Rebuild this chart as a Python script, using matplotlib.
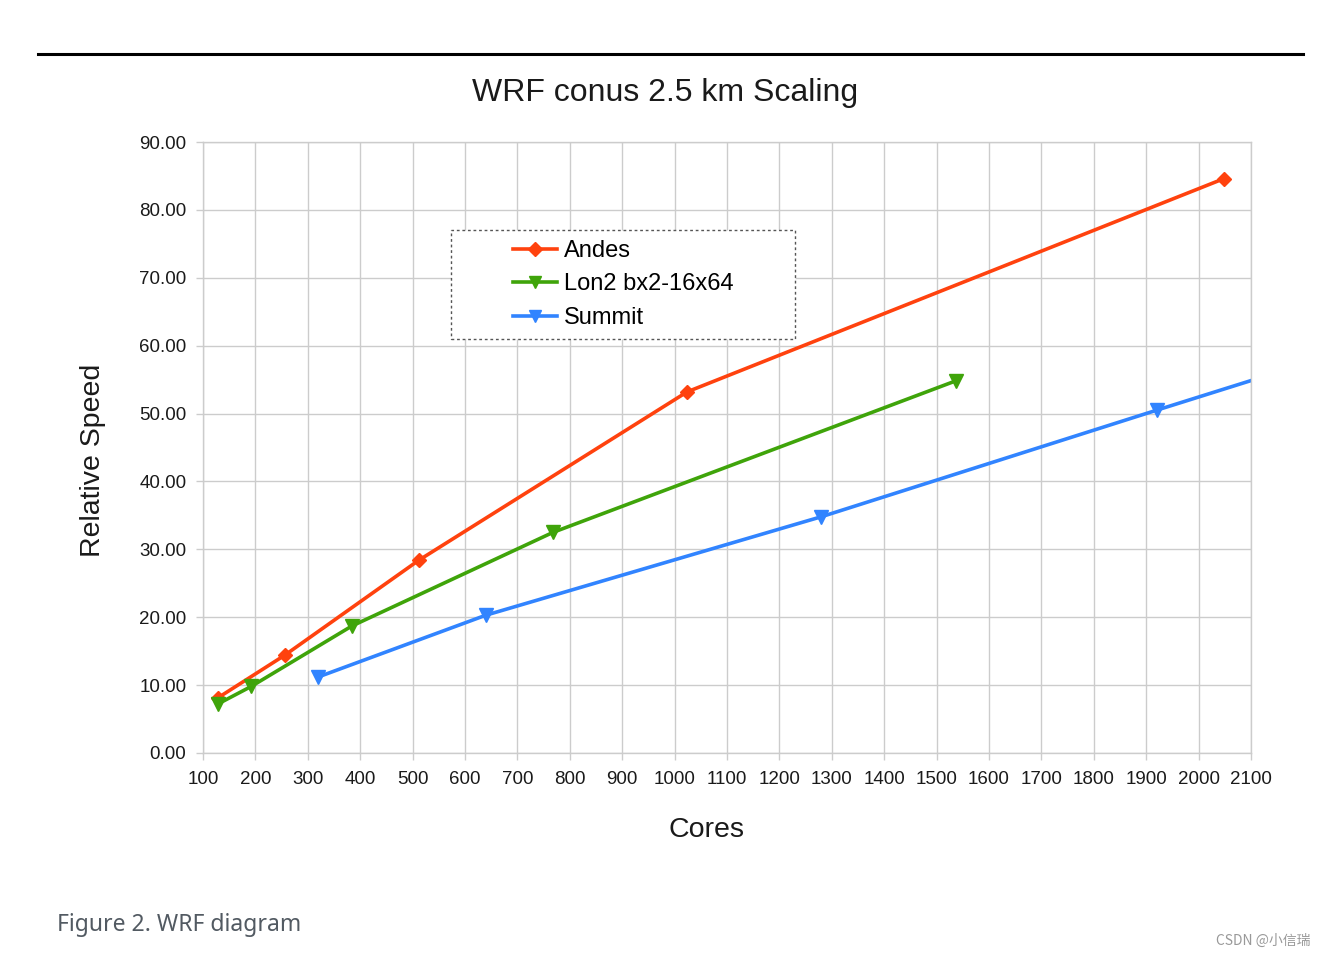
import numpy as np
import matplotlib.pyplot as plt
from matplotlib.patches import Rectangle
from matplotlib.lines import Line2D

plt.rcParams['font.family'] = ['Liberation Sans', 'DejaVu Sans']

# Data (cores -> relative speed)
andes_cores = [128, 256, 512, 1024, 2048]
andes_speed = [8.1, 14.4, 28.4, 53.2, 84.6]

lon2_cores = [128, 192, 384, 768, 1536]
lon2_speed = [7.2, 9.8, 18.7, 32.5, 54.8]

summit_cores = [320, 640, 1280, 1920, 2560]
summit_speed = [11.2, 20.3, 34.8, 50.5, 66.0]

xticks = np.arange(100, 2101, 100)
yticks = np.arange(0, 91, 10)

c_andes = '#ff420e'
c_lon2 = '#3fa40a'
c_summit = '#3184ff'
grid_c = '#cccccc'

W, H = 1325, 957
fig = plt.figure(figsize=(W / 100, H / 100), dpi=100)
ax = fig.add_axes([0.1532, 0.2132, 0.7910, 0.6384])

ax.plot(andes_cores, andes_speed, color=c_andes, lw=2.6, marker='D', ms=7.5,
        label='Andes')
ax.plot(lon2_cores, lon2_speed, color=c_lon2, lw=2.6, marker='v', ms=10,
        label='Lon2 bx2-16x64')
ax.plot(summit_cores, summit_speed, color=c_summit, lw=2.6, marker='v', ms=10,
        label='Summit')

ax.set_xlim(100, 2100)
ax.set_ylim(0, 90)
ax.set_xticks(xticks)
ax.set_yticks(yticks)
ax.set_yticklabels(['%.2f' % v for v in yticks])
ax.grid(True, color=grid_c, lw=1)
ax.set_axisbelow(True)
for s in ax.spines.values():
    s.set_color(grid_c)
    s.set_linewidth(1)
ax.tick_params(axis='both', colors=grid_c, length=5, width=1, labelcolor='#1a1a1a',
               labelsize=13.5)
ax.tick_params(axis='y', pad=7)
ax.tick_params(axis='x', pad=8)

# title and axis labels, placed as in the reference
fig.text(665 / W, 1 - 93 / H, 'WRF conus 2.5 km Scaling', fontsize=23,
         color='#1a1a1a', ha='center', va='center')
fig.text(706 / W, 1 - 830 / H, 'Cores', fontsize=20.5, color='#1a1a1a',
         ha='center', va='center')
fig.text(93 / W, 1 - 460 / H, 'Relative Speed', fontsize=20.5, color='#1a1a1a',
         ha='center', va='center', rotation=90)

# legend with a dotted frame
box = Rectangle((0.2366, 0.6776), 0.3284, 0.1784, transform=ax.transAxes,
                fill=True, facecolor='white', edgecolor='#555555', lw=1,
                linestyle=(0, (2, 2)), zorder=4)
ax.add_patch(box)
leg = ax.legend(loc='center', bbox_to_anchor=(0.4008, 0.7668), frameon=False,
                fontsize=17, handlelength=1.85, handletextpad=0.3,
                labelspacing=0.48, markerscale=0.9)
leg.set_zorder(5)

# page decorations
fig.add_artist(Line2D([38 / W, 1303 / W], [1 - 54 / H, 1 - 54 / H],
                      color='black', lw=2.2))
fig.text(57 / W, 1 - 925 / H, 'Figure 2. WRF diagram', fontsize=16.5,
         family=['Noto Sans', 'DejaVu Sans'], color='#525a62', va='center')
fig.text(1310 / W, 1 - 941 / H, 'CSDN @小信瑞', fontsize=10,
         family=['Noto Sans CJK SC', 'DejaVu Sans'], color='#999999',
         va='center', ha='right')

fig.savefig('out.png', dpi=100)
